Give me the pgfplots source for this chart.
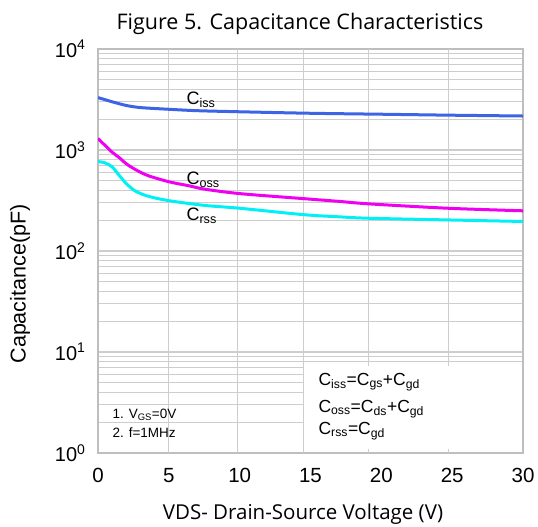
\documentclass[border=0pt]{standalone}
\usepackage{pgfplots}
\pgfplotsset{compat=1.18}
\usepackage{fontspec}
\setmainfont{Liberation Sans}
\newfontfamily\titlefont{Open Sans}

\definecolor{cissc}{RGB}{62,100,230}
\definecolor{cossc}{RGB}{240,0,240}
\definecolor{crssc}{RGB}{0,240,245}
\definecolor{framec}{RGB}{190,190,190}
\definecolor{gridc}{RGB}{205,205,205}

\newcommand{\sub}[1]{\textsubscript{#1}}

\begin{document}
\begin{tikzpicture}
\useasboundingbox (0pt,0pt) rectangle (538pt,527pt);
\begin{axis}[
    at={(98pt,74pt)}, anchor=south west,
    scale only axis, width=425pt, height=404pt,
    ymode=log,
    xmin=0, xmax=30, ymin=1, ymax=1e4,
    xtick={0,5,...,30},
    ytick={1,10,100,1000,10000},
    yticklabels={10\textsuperscript{0},10\textsuperscript{1},10\textsuperscript{2},10\textsuperscript{3},10\textsuperscript{4}},
    /pgf/number format/assume math mode=true,
    major tick length=0pt, minor tick length=0pt,
    ymajorgrids, yminorgrids,
    major grid style={gridc, line width=1.3pt},
    minor grid style={gridc, line width=0.7pt},
    extra x ticks={5,9.81,14.47,19.06,24.7},
    extra x tick labels={},
    extra x tick style={grid=major, major grid style={gridc, line width=0.8pt}},
    axis line style={framec, line width=1.8pt},
    xticklabel style={font=\fontsize{20.5}{23}\selectfont, yshift=-12pt},
    yticklabel style={font=\fontsize{20}{23}\selectfont, xshift=-9pt},
]
\addplot[cissc, line width=3pt, smooth] coordinates {
    (0,3300) (0.5,3150) (1,3000) (2,2760) (3,2630) (5,2530) (7,2450)
    (10,2390) (15,2310) (20,2260) (25,2210) (30,2170)
};
\addplot[cossc, line width=3pt, smooth] coordinates {
    (0,1300) (0.5,1110) (1,950) (1.5,840) (2,730) (2.6,645) (3.5,560)
    (5,485) (6.5,440) (7.5,410) (10,370) (14.5,330) (17,310) (19.1,293)
    (24.7,265) (30,250)
};
\addplot[crssc, line width=3pt, smooth] coordinates {
    (0,770) (0.5,745) (1,680) (1.5,560) (2,465) (2.6,395) (3.5,350)
    (5,315) (7.5,283) (10,265) (14.5,229) (17,218) (19.1,211)
    (24.7,203) (30,196)
};
\end{axis}

% legend box
\fill[white] (304pt,78pt) rectangle (522pt,161pt);
\node[anchor=west, font=\fontsize{17.5}{20}\selectfont] at (315pt,145pt) {C\sub{iss}=C\sub{gs}+C\sub{gd}};
\node[anchor=west, font=\fontsize{17.5}{20}\selectfont] at (315pt,118pt) {C\sub{oss}=C\sub{ds}+C\sub{gd}};
\node[anchor=west, font=\fontsize{17.5}{20}\selectfont] at (315pt,96pt) {C\sub{rss}=C\sub{gd}};

% notes
\node[anchor=west, font=\fontsize{13.5}{16}\selectfont] at (109pt,112pt) {1. V\sub{GS}=0V};
\node[anchor=west, font=\fontsize{13.5}{16}\selectfont] at (109pt,94pt) {2. f=1MHz};

% curve labels
\node[anchor=west, font=\fontsize{18}{20}\selectfont] at (183pt,427pt) {C\sub{iss}};
\node[anchor=west, font=\fontsize{18}{20}\selectfont] at (183pt,347pt) {C\sub{oss}};
\node[anchor=west, font=\fontsize{18}{20}\selectfont] at (183pt,311pt) {C\sub{rss}};

% titles
\node[font=\titlefont\fontsize{21.5}{25}\selectfont] at (300pt,503pt) {Figure 5. Capacitance Characteristics};
\node[font=\titlefont\fontsize{20.5}{24}\selectfont] at (303pt,13pt) {VDS- Drain-Source Voltage (V)};
\node[rotate=90, font=\fontsize{21.5}{24}\selectfont] at (20pt,243pt) {Capacitance(pF)};
\end{tikzpicture}
\end{document}
